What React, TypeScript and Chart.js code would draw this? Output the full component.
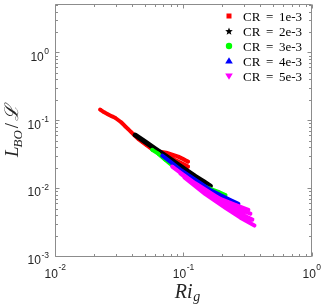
import React, { useEffect, useRef } from 'react';
import { Chart, registerables } from 'chart.js';

Chart.register(...registerables);

// ---- data ----
const SERIES_LABELS = ['CR = 1e-3', 'CR = 2e-3', 'CR = 3e-3', 'CR = 4e-3', 'CR = 5e-3'];
const SERIES_COLORS = ['#ff0000', '#000000', '#00ff00', '#0000ff', '#ff00ff'];
const X_MAJOR = [0.01, 0.1, 1];
const Y_MAJOR = [0.001, 0.01, 0.1, 1];
const X_RANGE = [0.01, 1];
const Y_RANGE = [0.001, 5];

const redX = [0.0225, 0.0242, 0.026, 0.0279, 0.0294, 0.0328, 0.0352, 0.0372, 0.0393, 0.0422, 0.0445, 0.0478, 0.0514, 0.0553, 0.0604, 0.0661,
  null, 0.0661, 0.0736, 0.082, 0.0914, 0.102, 0.109,
  null, 0.0698, 0.0791, 0.0881, 0.0982, 0.109,
  null, 0.0723, 0.082, 0.0914, 0.1055];
const redY = [0.144, 0.131, 0.122, 0.114, 0.109, 0.0935, 0.0818, 0.0741, 0.067, 0.0586, 0.0531, 0.048, 0.0434, 0.0393, 0.0356, 0.0322,
  null, 0.0344, 0.0333, 0.0311, 0.0291, 0.0263, 0.0246,
  null, 0.0301, 0.0281, 0.0255, 0.023, 0.0208,
  null, 0.0281, 0.0246, 0.0223, 0.0195];

const blackX = [0.0422, 0.0505, 0.0604, 0.0723, 0.0866, 0.1037, 0.124, 0.1432, 0.1625];
const blackY = [0.0606, 0.048, 0.038, 0.0301, 0.0238, 0.0188, 0.0149, 0.0126, 0.0107];

const greenX = [0.0573, 0.0638, 0.0723, 0.082, 0.0948, 0.1135, 0.136, 0.1625, 0.1875, 0.213];
const greenY = [0.0367, 0.0322, 0.0263, 0.0215, 0.0176, 0.014, 0.0112, 0.0098, 0.0088, 0.0079];

const blueX = [0.0686, 0.0791, 0.0948, 0.1135, 0.136, 0.1625, 0.1945, 0.233, 0.269];
const blueY = [0.0301, 0.0246, 0.0188, 0.0149, 0.0118, 0.0094, 0.0079, 0.0067, 0.00586];

const magentaX = [0.082, 0.1037, 0.136, 0.1945, 0.255, 0.322,
  null, 0.0881, 0.124, 0.178, 0.255, 0.334,
  null, 0.0948, 0.136, 0.1945, 0.269, 0.346,
  null, 0.102, 0.1486, 0.213, 0.279, 0.359];
const magentaY = [0.0208, 0.0149, 0.01033, 0.00693, 0.00568, 0.0048,
  null, 0.0188, 0.0118, 0.00766, 0.00513, 0.0042,
  null, 0.0165, 0.00967, 0.00627, 0.00434, 0.00344,
  null, 0.0144, 0.00818, 0.00513, 0.00367, 0.00281];

const SERIES_X = [redX, blackX, greenX, blueX, magentaX];
const SERIES_Y = [redY, blackY, greenY, blueY, magentaY];
const POINT_STYLES = ['rect', 'star', 'circle', 'triangle', 'triangle'];
const POINT_ROT = [0, 0, 0, 0, 180];

function toPoints(xs: (number | null)[], ys: (number | null)[]) {
  return xs.map((x, i) => (x === null || ys[i] === null ? { x: null, y: null } : { x, y: ys[i] }));
}

const AXIS_COLOR = '#8c8c8c';
const SANS = '"Liberation Sans", Arial, Helvetica, sans-serif';
const SERIF = '"Liberation Serif", "DejaVu Serif", "Times New Roman", serif';

function drawMarker(ctx: CanvasRenderingContext2D, kind: number, cx: number, cy: number) {
  ctx.fillStyle = SERIES_COLORS[kind];
  ctx.beginPath();
  if (kind === 0) {
    ctx.rect(cx - 2.5, cy - 2.5, 5, 5);
  } else if (kind === 1) {
    for (let i = 0; i < 10; i++) {
      const r = i % 2 === 0 ? 4 : 1.7;
      const a = -Math.PI / 2 + (i * Math.PI) / 5;
      const px = cx + r * Math.cos(a);
      const py = cy + r * Math.sin(a) + 0.5;
      if (i === 0) ctx.moveTo(px, py); else ctx.lineTo(px, py);
    }
    ctx.closePath();
  } else if (kind === 2) {
    ctx.arc(cx, cy, 3.2, 0, Math.PI * 2);
  } else if (kind === 3) {
    ctx.moveTo(cx, cy - 3.8);
    ctx.lineTo(cx - 3.8, cy + 2.6);
    ctx.lineTo(cx + 3.8, cy + 2.6);
    ctx.closePath();
  } else {
    ctx.moveTo(cx - 3.8, cy - 2.6);
    ctx.lineTo(cx + 3.8, cy - 2.6);
    ctx.lineTo(cx, cy + 3.8);
    ctx.closePath();
  }
  ctx.fill();
}

const decorPlugin = {
  id: 'decor',
  afterDraw(chart: any) {
    const ctx: CanvasRenderingContext2D = chart.ctx;
    const xs = chart.scales.x;
    const ys = chart.scales.y;
    const { left, right, top, bottom } = chart.chartArea;
    const L = Math.floor(left) + 0.5;
    const R = Math.floor(right) + 0.5;
    const T = Math.floor(top) - 0.5;
    const B = Math.floor(bottom) + 0.5;
    ctx.save();
    ctx.strokeStyle = AXIS_COLOR;
    ctx.lineWidth = 1;
    ctx.beginPath();
    ctx.moveTo(L, T); ctx.lineTo(R, T); ctx.lineTo(R, B); ctx.lineTo(L, B); ctx.closePath();
    ctx.stroke();

    // ticks
    ctx.beginPath();
    for (let d = -2; d <= 0; d++) {
      for (let k = 1; k <= 9; k++) {
        const v = k * Math.pow(10, d);
        if (v < X_RANGE[0] - 1e-12 || v > X_RANGE[1] + 1e-12) continue;
        const px = Math.round(xs.getPixelForValue(v)) + 0.5;
        const len = k === 1 ? 4 : 2.5;
        ctx.moveTo(px, B); ctx.lineTo(px, B - len);
        ctx.moveTo(px, T); ctx.lineTo(px, T + len);
      }
    }
    for (let d = -3; d <= 0; d++) {
      for (let k = 1; k <= 9; k++) {
        const v = k * Math.pow(10, d);
        if (v < Y_RANGE[0] - 1e-12 || v > Y_RANGE[1] + 1e-12) continue;
        const py = Math.round(ys.getPixelForValue(v)) + 0.5;
        const len = k === 1 ? 4 : 2.5;
        ctx.moveTo(L, py); ctx.lineTo(L + len, py);
        ctx.moveTo(R, py); ctx.lineTo(R - len, py);
      }
    }
    ctx.stroke();

    // tick labels
    ctx.fillStyle = '#262626';
    ctx.textBaseline = 'alphabetic';
    ctx.textAlign = 'left';
    const baseFont = '12px ' + SANS;
    const expFont = '8.5px ' + SANS;
    for (const v of X_MAJOR) {
      const e = String(Math.round(Math.log10(v)));
      ctx.font = baseFont; const wb = ctx.measureText('10').width;
      ctx.font = expFont; const we = ctx.measureText(e).width;
      const px = xs.getPixelForValue(v);
      const x0 = px - (wb + we) / 2;
      ctx.font = baseFont; ctx.fillText('10', x0, 277.5);
      ctx.font = expFont; ctx.fillText(e, x0 + wb + 0.5, 269.5);
    }
    for (const v of Y_MAJOR) {
      const e = String(Math.round(Math.log10(v)));
      ctx.font = baseFont; const wb = ctx.measureText('10').width;
      ctx.font = expFont; const we = ctx.measureText(e).width;
      const py = ys.getPixelForValue(v);
      const xr = 49;
      ctx.font = expFont; ctx.fillText(e, xr - we, py + 2);
      ctx.font = baseFont; ctx.fillText('10', xr - we - wb - 0.5, py + 8.3);
    }

    // x title: Ri_g
    ctx.fillStyle = '#262626';
    const tFont = 'italic 20px ' + SERIF;
    const sFont = 'italic 14px ' + SERIF;
    ctx.font = tFont; const wRi = ctx.measureText('Ri').width;
    ctx.font = sFont; const wg = ctx.measureText('g').width;
    const xStart = (left + right) / 2 + 4 - (wRi + wg) / 2;
    ctx.font = tFont; ctx.fillText('Ri', xStart, 298);
    ctx.font = sFont; ctx.fillText('g', xStart + wRi + 0.5, 300.5);

    // y title: L_BO / \mathcal{L}
    ctx.save();
    const cyT = (top + bottom) / 2;
    ctx.translate(17.5, cyT);
    ctx.rotate(-Math.PI / 2);
    const yFont = 'italic 19px ' + SERIF;
    const ySub = 'italic 13px ' + SERIF;
    const yUp = '19px ' + SERIF;
    const scr = 'italic 19px "DejaVu Serif", serif';
    ctx.font = yFont; const wL = ctx.measureText('L').width;
    ctx.font = ySub; const wBO = ctx.measureText('BO').width;
    ctx.font = yUp; const wSl = ctx.measureText('/').width;
    ctx.font = scr; const wC = ctx.measureText('\u2112').width;
    const gap = 2;
    const total = wL + wBO + wSl + wC + gap * 2;
    let u = -total / 2;
    ctx.font = yFont; ctx.fillText('L', u, 0); u += wL - 1;
    ctx.font = ySub; ctx.fillText('BO', u, 4); u += wBO + gap;
    ctx.font = yUp; ctx.fillText('/', u, 0); u += wSl + gap;
    ctx.font = scr; ctx.fillText('\u2112', u, 0);
    ctx.restore();

    // legend
    const rows = [16, 31, 46, 61, 76];
    const lf = '13px ' + SERIF;
    ctx.font = lf;
    for (let i = 0; i < SERIES_LABELS.length; i++) {
      drawMarker(ctx, i, 229, rows[i]);
      const parts = SERIES_LABELS[i].split(' = ');
      ctx.fillStyle = '#000';
      ctx.font = lf;
      const w1 = ctx.measureText(parts[0]).width;
      const wEq = ctx.measureText('=').width;
      const w2 = ctx.measureText(parts[1]).width;
      const target = 59;
      const g = Math.max(3, (target - w1 - wEq - w2) / 2);
      const x0 = 243;
      const by = rows[i] + 4.5;
      ctx.fillText(parts[0], x0, by);
      ctx.fillText('=', x0 + w1 + g, by);
      ctx.fillText(parts[1], x0 + w1 + g + wEq + g, by);
    }
    ctx.restore();
  },
};

export default function App() {
  const ref = useRef<HTMLCanvasElement | null>(null);
  useEffect(() => {
    if (!ref.current) return;
    const datasets = SERIES_LABELS.map((label, i) => ({
      label,
      data: toPoints(SERIES_X[i], SERIES_Y[i]),
      showLine: true,
      borderColor: SERIES_COLORS[i],
      backgroundColor: SERIES_COLORS[i],
      borderWidth: i === 1 ? 5 : 4,
      borderJoinStyle: 'round',
      borderCapStyle: 'round',
      pointRadius: 1.5,
      pointBorderWidth: 1,
      pointStyle: POINT_STYLES[i],
      pointRotation: POINT_ROT[i],
      spanGaps: false,
      order: SERIES_LABELS.length - i,
    }));
    const chart = new Chart(ref.current, {
      type: 'scatter',
      data: { datasets: datasets as any },
      options: {
        animation: false,
        responsive: false,
        maintainAspectRatio: false,
        events: [],
        layout: { padding: { left: 55, right: 10.5, top: 1, bottom: 49 } },
        scales: {
          x: { type: 'logarithmic', min: X_RANGE[0], max: X_RANGE[1], display: false },
          y: { type: 'logarithmic', min: Y_RANGE[0], max: Y_RANGE[1], display: false },
        },
        plugins: { legend: { display: false }, tooltip: { enabled: false } },
      },
      plugins: [decorPlugin],
    } as any);
    return () => chart.destroy();
  }, []);
  return (
    <div style={{ position: 'absolute', left: 0, top: 0, width: 322, height: 305, background: '#fff' }}>
      <canvas ref={ref} width={322} height={305} style={{ display: 'block', width: 322, height: 305 }} />
    </div>
  );
}
